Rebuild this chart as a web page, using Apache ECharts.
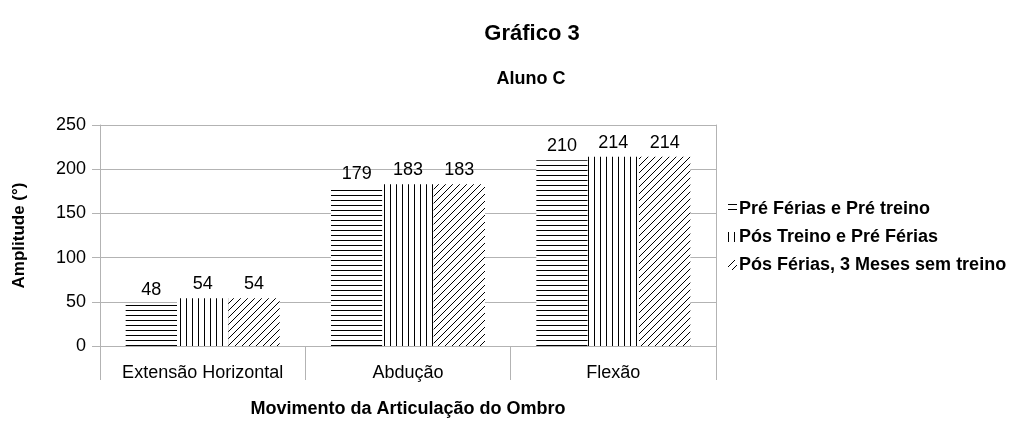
<!DOCTYPE html>
<html>
<head>
<meta charset="utf-8">
<script src="https://cdn.jsdelivr.net/npm/echarts@6/dist/echarts.min.js"></script>
<style>
  html, body { margin: 0; padding: 0; background: #fff; }
  #chart { width: 1011px; height: 423px; }
</style>
</head>
<body>
<div id="chart"></div>
<script>
// Shoulder range of motion for student C, three measurement moments
const categories = ['Extensão Horizontal', 'Abdução', 'Flexão'];
const seriesNames = ['Pré Férias e Pré treino', 'Pós Treino e Pré Férias', 'Pós Férias, 3 Meses sem treino'];
const preFerias = [48, 179, 210];
const posTreino = [54, 183, 214];
const posFerias = [54, 183, 214];
const yTicks = { min: 0, max: 250, interval: 50 };

const FONT = '"Liberation Sans", Arial, sans-serif';

// Hatch fills drawn on small canvases and tiled across the bars
function hatch(kind) {
  const c = document.createElement('canvas');
  const ctx = c.getContext('2d');
  ctx.strokeStyle = '#000';
  ctx.lineWidth = 1;
  if (kind === 'h') {
    c.width = 4; c.height = 5;
    ctx.fillStyle = '#fff'; ctx.fillRect(0, 0, 4, 5);
    ctx.beginPath(); ctx.moveTo(0, 0.5); ctx.lineTo(4, 0.5); ctx.stroke();
  } else if (kind === 'v') {
    c.width = 6; c.height = 4;
    ctx.fillStyle = '#fff'; ctx.fillRect(0, 0, 6, 4);
    ctx.beginPath(); ctx.moveTo(0.5, 0); ctx.lineTo(0.5, 4); ctx.stroke();
  } else {
    const s = 7;
    c.width = s; c.height = s;
    ctx.fillStyle = '#fff'; ctx.fillRect(0, 0, s, s);
    ctx.beginPath();
    ctx.moveTo(-1, s + 1); ctx.lineTo(s + 1, -1);
    ctx.moveTo(-2, 1); ctx.lineTo(1, -2);
    ctx.moveTo(s - 1, s + 2); ctx.lineTo(s + 2, s - 1);
    ctx.stroke();
  }
  return { image: c, repeat: 'repeat' };
}

const fills = [hatch('h'), hatch('v'), hatch('d')];
const values = [preFerias, posTreino, posFerias];

const chart = echarts.init(document.getElementById('chart'), null, { renderer: 'canvas' });

chart.setOption({
  animation: false,
  backgroundColor: '#fff',
  textStyle: { fontFamily: FONT },
  title: [
    { text: 'Gráfico 3', left: 527, top: 18, textAlign: 'center',
      textStyle: { fontFamily: FONT, fontSize: 22, fontWeight: 'bold', color: '#000' } },
    { text: 'Aluno C', left: 526, top: 65, textAlign: 'center',
      textStyle: { fontFamily: FONT, fontSize: 18, fontWeight: 'bold', color: '#000' } }
  ],
  legend: {
    orient: 'vertical',
    left: 723,
    top: 195,
    itemWidth: 9,
    itemHeight: 10,
    itemGap: 10,
    icon: 'rect',
    textStyle: { fontFamily: FONT, fontSize: 18, fontWeight: 'bold', color: '#000', padding: [0, 0, 0, -3] },
    data: seriesNames
  },
  grid: { left: 100, right: 295, top: 125, bottom: 74 },
  xAxis: {
    type: 'category',
    data: categories,
    name: 'Movimento da Articulação do Ombro',
    nameLocation: 'middle',
    nameGap: 54,
    nameTextStyle: { fontFamily: FONT, fontSize: 18, fontWeight: 'bold', color: '#000' },
    axisLine: { lineStyle: { color: '#b3b3b3', width: 1 } },
    axisTick: { show: true, interval: 0, length: 34, lineStyle: { color: '#b3b3b3' } },
    axisLabel: { interval: 0, hideOverlap: false, fontFamily: FONT, fontSize: 18, color: '#000', margin: 18 }
  },
  yAxis: [
    {
      type: 'value',
      min: yTicks.min,
      max: yTicks.max,
      interval: yTicks.interval,
      name: 'Amplitude (°)',
      nameLocation: 'middle',
      nameGap: 72,
      nameRotate: 90,
      nameTextStyle: { fontFamily: FONT, fontSize: 17, fontWeight: 'bold', color: '#000' },
      axisLine: { show: true, lineStyle: { color: '#b3b3b3', width: 1 } },
      axisTick: { show: true, length: 8, lineStyle: { color: '#b3b3b3' } },
      axisLabel: { fontFamily: FONT, fontSize: 18, color: '#000', margin: 14 },
      splitLine: { show: true, lineStyle: { color: '#b3b3b3', width: 1 } }
    },
    {
      type: 'value',
      position: 'right',
      min: yTicks.min,
      max: yTicks.max,
      interval: yTicks.interval,
      axisLine: { show: true, lineStyle: { color: '#b3b3b3', width: 1 } },
      axisTick: { show: false },
      axisLabel: { show: false },
      splitLine: { show: false }
    }
  ],
  series: seriesNames.map((name, i) => ({
    name: name,
    type: 'bar',
    yAxisIndex: 0,
    data: values[i],
    barGap: '0%',
    barCategoryGap: '25%',
    itemStyle: { color: fills[i] },
    label: {
      show: true,
      position: 'top',
      distance: 5,
      fontFamily: FONT,
      fontSize: 18,
      color: '#000'
    }
  }))
});
</script>
</body>
</html>
